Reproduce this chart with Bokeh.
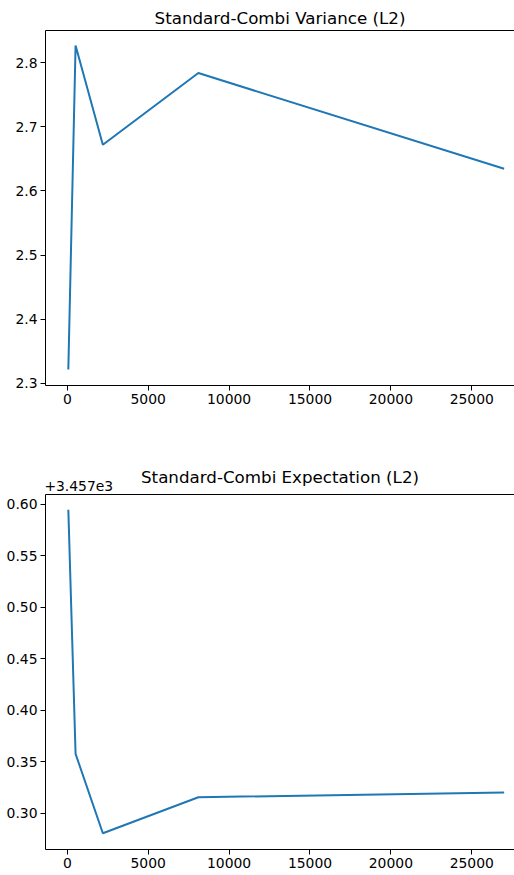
from bokeh.plotting import figure
from bokeh.layouts import column
from bokeh.models import Range1d, FixedTicker, LinearAxis, CustomJSTickFormatter
from bokeh.embed import file_html
from bokeh.resources import INLINE

# ---- data ----
n_points = [64, 512, 2197, 8100, 27000]
variance_l2 = [2.3214, 2.827, 2.672, 2.784, 2.6346]
expectation_l2 = [3457.5945, 3457.3576, 3457.2806, 3457.3155, 3457.3201]
offset_value = 3457.0
offset_text = "+3.457e3"
x_ticks = [0, 5000, 10000, 15000, 20000, 25000]
var_ticks = [2.3, 2.4, 2.5, 2.6, 2.7, 2.8]
exp_ticks = [offset_value + t for t in [0.30, 0.35, 0.40, 0.45, 0.50, 0.55, 0.60]]
titles = ["Standard-Combi Variance (L2)", "Standard-Combi Expectation (L2)"]

FONT = "DejaVu Sans"
LINE = "#1f77b4"
X_START, X_END = -1347, 27640
W = 514
BORDER_LEFT = 45


def make_fig(height, top, bottom, ys, y_range, yticks, yfmt, title, title_standoff,
             top_ticks, top_fmt, top_standoff):
    p = figure(width=W, height=height, output_backend="svg", toolbar_location=None,
               x_range=Range1d(X_START, X_END), y_range=Range1d(*y_range),
               min_border_left=BORDER_LEFT, min_border_right=0, min_border_top=top,
               min_border_bottom=bottom, x_axis_type=None, y_axis_type=None)
    p.title.text = title
    p.title.text_font = FONT
    p.title.text_font_size = "16.7px"
    p.title.text_font_style = "normal"
    p.title.align = "center"
    p.title.offset = 4
    p.title.standoff = title_standoff
    p.title.text_color = "#000000"
    p.outline_line_color = None
    p.xgrid.visible = False
    p.ygrid.visible = False
    p.background_fill_color = "white"
    p.border_fill_color = "white"

    xa = LinearAxis(ticker=FixedTicker(ticks=x_ticks),
                    formatter=CustomJSTickFormatter(code="return tick.toFixed(0);"))
    ya = LinearAxis(ticker=FixedTicker(ticks=yticks), formatter=yfmt)
    for ax in (xa, ya):
        ax.major_tick_out = 5
        ax.major_tick_in = 0
        ax.minor_tick_line_color = None
        ax.major_label_text_font = FONT
        ax.major_label_text_font_size = "13.9px"
        ax.major_label_text_color = "#000000"
        ax.axis_line_color = "#000000"
        ax.axis_line_width = 1
        ax.major_tick_line_color = "#000000"
        ax.major_label_standoff = 3
    p.add_layout(xa, "below")
    p.add_layout(ya, "left")
    # top spine (and, for the second chart, the offset text)
    top_ax = LinearAxis(ticker=FixedTicker(ticks=top_ticks), formatter=top_fmt,
                        major_tick_line_color=None, minor_tick_line_color=None,
                        major_tick_out=0, major_tick_in=0, major_label_standoff=top_standoff,
                        major_label_text_font=FONT, major_label_text_font_size="13.9px",
                        major_label_text_color="#000000",
                        axis_line_color="#000000", axis_line_width=1)
    p.add_layout(top_ax, "above")

    p.line(n_points, ys, line_color=LINE, line_width=2)
    return p


frame_w = W - BORDER_LEFT
offset_label_x = X_START + (33.3 / frame_w) * (X_END - X_START)

p1 = make_fig(440, 30, 55, variance_l2, (2.2964, 2.8504), var_ticks,
              CustomJSTickFormatter(code="return tick.toFixed(1);"), titles[0], 5,
              [], CustomJSTickFormatter(code="return '';"), 2)
p2 = make_fig(435, 54, 26, expectation_l2, (offset_value + 0.2648, offset_value + 0.6093),
              exp_ticks,
              CustomJSTickFormatter(code="return (tick - %r).toFixed(2);" % offset_value),
              titles[1], -19,
              [offset_label_x],
              CustomJSTickFormatter(code="return %r;" % offset_text), 4)

layout = column(p1, p2, spacing=0)
open("out.html", "w").write(file_html(layout, INLINE))
